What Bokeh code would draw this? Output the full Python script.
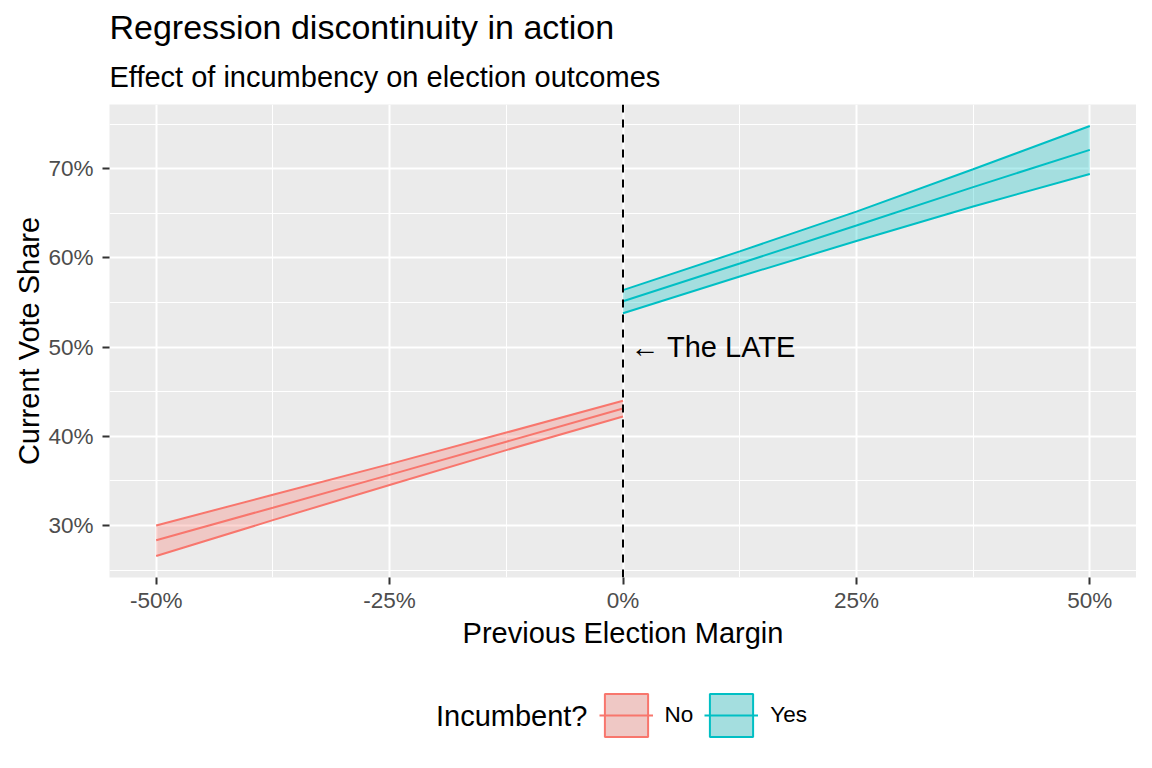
from bokeh.plotting import figure
from bokeh.layouts import column
from bokeh.models import (Title, Span, FixedTicker, Legend, LegendItem,
                          ColumnDataSource, Range1d)
from bokeh.core.properties import value
from bokeh.embed import file_html
from bokeh.resources import INLINE

# ---- data ----
margin_no = [-50.0, -37.5, -25.0, -12.5, 0.0]
lower_no = [26.58, 30.60, 34.55, 38.45, 42.22]
fit_no = [28.35, 32.00, 35.68, 39.40, 43.12]
upper_no = [30.00, 33.45, 36.88, 40.42, 43.98]

margin_yes = [0.0, 12.5, 25.0, 37.5, 50.0]
lower_yes = [53.80, 57.93, 61.90, 65.78, 69.42]
fit_yes = [55.15, 59.38, 63.65, 67.95, 72.12]
upper_yes = [56.40, 60.74, 65.20, 69.95, 74.80]

x_ticks = [-50, -25, 0, 25, 50]
x_tick_labels = ["-50%", "-25%", "0%", "25%", "50%"]
x_minor = [-37.5, -12.5, 12.5, 37.5]
y_ticks = [30, 40, 50, 60, 70]
y_tick_labels = ["30%", "40%", "50%", "60%", "70%"]
y_minor = [25, 35, 45, 55, 65, 75]

late_x = [0.8]
late_y = [50.0]
late_label = ["\u2190 The LATE"]

groups = ["No", "Yes"]
colors = ["#F8766D", "#00BFC4"]
legend_title = "Incumbent?"

FONT = "Liberation Sans"
W = 1136
MAIN_H = 655
LEG_H = 97
FRAME_L = 109

# ---- ranges (ggplot-style 5% expansion) ----
x_lo, x_hi = min(margin_no), max(margin_yes)
xpad = (x_hi - x_lo) * 0.05
y_lo = min(lower_no + lower_yes)
y_hi = max(upper_no + upper_yes)
ypad = (y_hi - y_lo) * 0.05

p = figure(width=W, height=MAIN_H, output_backend="svg", toolbar_location=None,
           x_range=Range1d(x_lo - xpad, x_hi + xpad),
           y_range=Range1d(y_lo - ypad, y_hi + ypad),
           title=None)
p.min_border_left = FRAME_L
p.min_border_right = 0
p.min_border_top = 104
p.min_border_bottom = MAIN_H - 577
p.outline_line_color = None
p.background_fill_color = "#EBEBEB"
p.border_fill_color = "white"

# grid
for g in (p.xgrid, p.ygrid):
    g.grid_line_color = "white"
    g.grid_line_width = 2
    g.minor_grid_line_color = "white"
    g.minor_grid_line_width = 1

p.xaxis.ticker = FixedTicker(ticks=x_ticks, minor_ticks=x_minor)
p.yaxis.ticker = FixedTicker(ticks=y_ticks, minor_ticks=y_minor)
p.xaxis.major_label_overrides = dict(zip(x_ticks, x_tick_labels))
p.yaxis.major_label_overrides = dict(zip(y_ticks, y_tick_labels))

for ax in (p.xaxis, p.yaxis):
    ax.axis_line_color = None
    ax.major_tick_line_color = "#333333"
    ax.major_tick_line_width = 2
    ax.major_tick_out = 7
    ax.major_tick_in = 0
    ax.minor_tick_line_color = None
    ax.major_label_text_font = FONT
    ax.major_label_text_font_size = "22.5px"
    ax.major_label_text_color = "#4D4D4D"
    ax.axis_label_text_font = FONT
    ax.axis_label_text_font_size = "29px"
    ax.axis_label_text_font_style = "normal"
    ax.axis_label_text_color = "black"

p.xaxis.axis_label = "Previous Election Margin"
p.yaxis.axis_label = "Current Vote Share"
p.xaxis.major_label_standoff = 3
p.yaxis.major_label_standoff = 9
p.xaxis.axis_label_standoff = 1
p.yaxis.axis_label_standoff = 0

# ---- ribbons and fitted lines ----
series = [
    (margin_no, lower_no, fit_no, upper_no),
    (margin_yes, lower_yes, fit_yes, upper_yes),
]
for (xs, lo, fit, hi), col in zip(series, colors):
    src = ColumnDataSource(dict(x=xs, lo=lo, fit=fit, hi=hi))
    p.varea(x="x", y1="lo", y2="hi", source=src, fill_color=col, fill_alpha=0.3)
    p.line(x="x", y="lo", source=src, line_color=col, line_width=2)
    p.line(x="x", y="hi", source=src, line_color=col, line_width=2)
    p.line(x="x", y="fit", source=src, line_color=col, line_width=2)

# cutoff line
p.add_layout(Span(location=0, dimension="height", line_color="black",
                  line_width=2, line_dash="8 7"))

# annotation
p.text(x=late_x, y=late_y, text=late_label, text_font=value(FONT),
       text_font_size="29px", text_color="black", text_align="left",
       text_baseline="middle")

# ---- titles ----
p.add_layout(Title(text="Effect of incumbency on election outcomes", align="left",
                   text_font=FONT, text_font_size="29px", text_font_style="normal",
                   text_color="black", standoff=23), "above")
p.add_layout(Title(text="Regression discontinuity in action", align="left",
                   text_font=FONT, text_font_size="34px", text_font_style="normal",
                   text_color="black", standoff=3), "above")

# ---- legend strip (separate figure, x in page pixels) ----
q = figure(width=W, height=LEG_H, output_backend="svg", toolbar_location=None,
           x_range=Range1d(FRAME_L, W), y_range=Range1d(0, LEG_H),
           x_axis_location=None, y_axis_location=None, title=None,
           min_border=0)
q.min_border_left = FRAME_L
q.xgrid.visible = False
q.ygrid.visible = False
q.outline_line_color = None
q.background_fill_color = "white"

items = []
for (xs, lo, fit, hi), grp, col in zip(series, groups, colors):
    back_r = q.quad(left=[xs[0]], right=[xs[-1]], bottom=[min(lo)], top=[max(hi)],
                    fill_color="#EBEBEB", line_color=None, muted_fill_alpha=0)
    back_r.muted = True
    key_r = q.quad(left=[xs[0]], right=[xs[-1]], bottom=[min(lo)], top=[max(hi)],
                   fill_color=col, fill_alpha=0.3, line_color=col, line_width=2,
                   muted_fill_alpha=0, muted_line_alpha=0)
    key_r.muted = True
    line_r = q.line(x=xs, y=fit, line_color=col, line_width=2, muted_line_alpha=0)
    line_r.muted = True
    items.append(LegendItem(label=grp, renderers=[back_r, key_r, line_r]))

legend = Legend(items=items, orientation="horizontal",
                location=(598.6 - FRAME_L, 10),
                label_text_font=FONT, label_text_font_size="22.5px",
                label_text_color="black",
                label_standoff=12, spacing=11, glyph_width=54, glyph_height=54,
                padding=0, margin=0, border_line_color=None,
                background_fill_alpha=0)
q.add_layout(legend, "center")

q.text(x=[587], y=[LEG_H - (715 - MAIN_H)], text=[legend_title],
       text_font=value(FONT), text_font_size="29px", text_color="black",
       text_align="right", text_baseline="middle")

open("out.html", "w").write(file_html(column(p, q, spacing=0), INLINE))
